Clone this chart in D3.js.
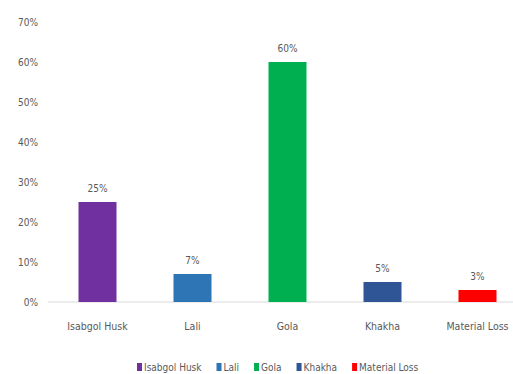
<!DOCTYPE html>
<meta charset="utf-8">
<style>
  body { margin: 0; background: #fff; }
  text { font-family: "Liberation Sans Narrow", "DejaVu Sans Condensed", sans-serif; fill: #595959; }
</style>

<body>
  <script src="https://cdn.jsdelivr.net/npm/d3@7"></script>
  <script>

    var categories = ["Isabgol Husk", "Lali", "Gola", "Khakha", "Material Loss"];
    var values = [25, 7, 60, 5, 3];
    var colors = ["#7030A0", "#2E75B6", "#00B050", "#2F5597", "#FF0000"];
    var yTicks = [0, 10, 20, 30, 40, 50, 60, 70];

    var width = 513, height = 374;
    var plot = { left: 50, right: 525, top: 22, bottom: 302 };

    var svg = d3.select("body").append("svg")
      .attr("width", width)
      .attr("height", height);

    var x = d3.scaleBand()
      .domain(categories)
      .range([plot.left, plot.right])
      .paddingInner(0.6)
      .paddingOuter(0.3);

    var y = d3.scaleLinear()
      .domain([0, 70])
      .range([plot.bottom, plot.top]);

    // y axis labels, no line
    svg.append("g")
      .selectAll("text")
      .data(yTicks)
      .enter().append("text")
      .attr("x", 38)
      .attr("y", function (d) { return y(d); })
      .attr("dy", "0.35em")
      .attr("text-anchor", "end")
      .style("font-size", "10px")
      .text(function (d) { return d + "%"; });

    // baseline
    svg.append("line")
      .attr("x1", 48).attr("x2", width)
      .attr("y1", y(0)).attr("y2", y(0))
      .attr("stroke", "#D9D9D9")
      .attr("stroke-width", 1);

    svg.append("g")
      .selectAll("rect")
      .data(values)
      .enter().append("rect")
      .attr("x", function (d, i) { return x(categories[i]); })
      .attr("y", function (d) { return y(d); })
      .attr("width", x.bandwidth())
      .attr("height", function (d) { return y(0) - y(d); })
      .attr("fill", function (d, i) { return colors[i]; });

    // value labels
    svg.append("g")
      .selectAll("text")
      .data(values)
      .enter().append("text")
      .attr("x", function (d, i) { return x(categories[i]) + x.bandwidth() / 2; })
      .attr("y", function (d) { return y(d) - 10; })
      .attr("text-anchor", "middle")
      .style("font-size", "10px")
      .text(function (d) { return d + "%"; });

    // category labels
    svg.append("g")
      .selectAll("text")
      .data(categories)
      .enter().append("text")
      .attr("x", function (d) { return x(d) + x.bandwidth() / 2; })
      .attr("y", 330)
      .attr("text-anchor", "middle")
      .style("font-size", "10.5px")
      .text(function (d) { return d; });

    // legend
    var legend = svg.append("g").attr("transform", "translate(137,367)");
    var lx = 0;
    categories.forEach(function (c, i) {
      var g = legend.append("g").attr("transform", "translate(" + lx + ",0)");
      g.append("rect")
        .attr("x", 0).attr("y", -4)
        .attr("width", 5).attr("height", 8)
        .attr("fill", colors[i]);
      var t = g.append("text")
        .attr("x", 7)
        .attr("dy", "0.35em")
        .style("font-size", "10px")
        .text(c);
      lx += 7 + t.node().getComputedTextLength() + 15;
    });

  </script>
</body>

</html>
